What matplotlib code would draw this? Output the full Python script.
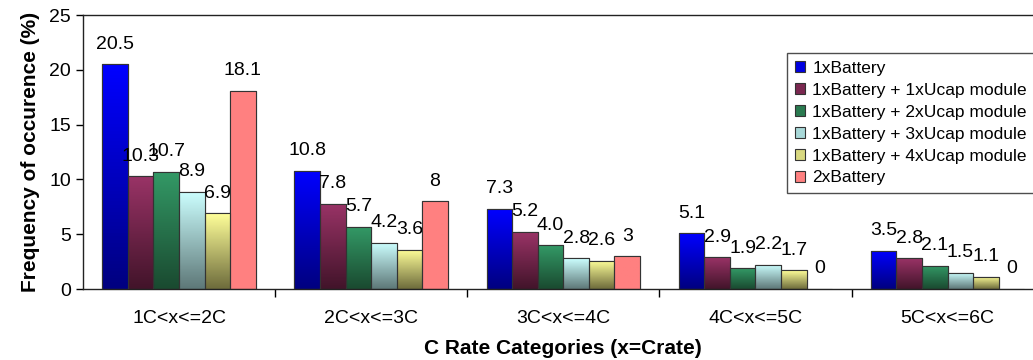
import numpy as np
import matplotlib.pyplot as plt
from matplotlib.colors import LinearSegmentedColormap
from matplotlib.patches import Patch

plt.rcParams['font.family'] = ['Liberation Sans', 'DejaVu Sans']

categories = ['1C<x<=2C', '2C<x<=3C', '3C<x<=4C', '4C<x<=5C', '5C<x<=6C']
series = ['1xBattery', '1xBattery + 1xUcap module', '1xBattery + 2xUcap module',
          '1xBattery + 3xUcap module', '1xBattery + 4xUcap module', '2xBattery']
one_batt = [20.5, 10.8, 7.3, 5.1, 3.5]
ucap1 = [10.3, 7.8, 5.2, 2.9, 2.8]
ucap2 = [10.7, 5.7, 4.0, 1.9, 2.1]
ucap3 = [8.9, 4.2, 2.8, 2.2, 1.5]
ucap4 = [6.9, 3.6, 2.6, 1.7, 1.1]
two_batt = [18.1, 8, 3, 0, 0]
values = [one_batt, ucap1, ucap2, ucap3, ucap4, two_batt]
label_fmt = ['%.1f', '%.1f', '%.1f', '%.1f', '%.1f', '%g']

# (bottom colour, top colour) for each series' vertical shading
shades = [('#000080', '#0000ff'),
          ('#42142a', '#993366'),
          ('#1a4a30', '#339966'),
          ('#5e7878', '#ccffff'),
          ('#6e6c3c', '#ffff99'),
          ('#ff8080', '#ff8080')]
legend_fill = ['#0000e0', '#7a2850', '#2a7a50', '#a8d8d8', '#d8d880', '#ff8080']

fig = plt.figure(figsize=(10.33, 3.6), dpi=100)
ax = fig.add_axes([0.0803, 0.197, 0.93, 0.761])

x = np.arange(len(categories))
w = 0.133
grad = np.linspace(0, 1, 64).reshape(-1, 1)
for i, (vals, (lo, hi)) in enumerate(zip(values, shades)):
    pos = x - 2.5 * w + i * w
    bars = ax.bar(pos, vals, w, color=hi, edgecolor='#333333', linewidth=0.8, zorder=2)
    cmap = LinearSegmentedColormap.from_list('s%d' % i, [lo, hi])
    for b, v in zip(bars, vals):
        if v > 0:
            im = ax.imshow(grad, cmap=cmap, origin='lower', aspect='auto',
                           extent=(b.get_x(), b.get_x() + w, 0, v), zorder=2.5)
            im.set_clip_path(b)
            edge = plt.Rectangle((b.get_x(), 0), w, v, fill=False,
                                 edgecolor='#333333', linewidth=0.8, zorder=3)
            ax.add_patch(edge)
        ax.annotate(label_fmt[i] % v, (b.get_x() + w / 2, v), xytext=(0, 14.5),
                    textcoords='offset points', ha='center', va='center', fontsize=14)

ax.set_xlim(-0.5, 4.5)
ax.set_ylim(0, 25)
ax.set_yticks(range(0, 26, 5))
ax.set_xticks(x)
ax.set_xticklabels(categories)
ax.set_xticks(np.arange(0.5, 4.5, 1), minor=True)
ax.tick_params(axis='x', which='major', length=0, pad=15, labelsize=14)
ax.tick_params(axis='x', which='minor', length=6, direction='out', width=1)
ax.tick_params(axis='y', length=5, direction='out', labelsize=14, width=1)
for s in ax.spines.values():
    s.set_linewidth(1.0)
    s.set_color('#222222')

ax.set_ylabel('Frequency of occurence (%)', fontsize=15, fontweight='bold', labelpad=7)
ax.set_xlabel('C Rate Categories (x=Crate)', fontsize=15, fontweight='bold', labelpad=9)

handles = [Patch(facecolor=c, edgecolor='#333333', linewidth=0.8) for c in legend_fill]
leg = fig.legend(handles, series, loc='upper left', bbox_to_anchor=(0.762, 0.853),
                 fontsize=12.5, frameon=True, fancybox=False, handlelength=0.6,
                 handleheight=0.6, handletextpad=0.4, labelspacing=0.4,
                 borderpad=0.45, borderaxespad=0)
leg.get_frame().set_edgecolor('#222222')
leg.get_frame().set_linewidth(1.0)

fig.savefig('out.png', dpi=100)
